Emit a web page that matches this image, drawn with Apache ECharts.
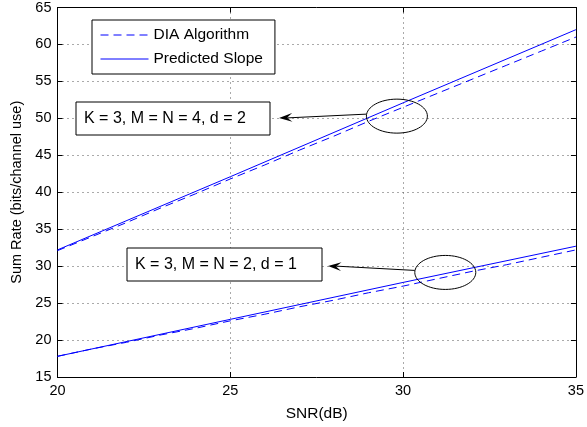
<!DOCTYPE html>
<html>
<head>
<meta charset="utf-8">
<script src="https://cdn.jsdelivr.net/npm/echarts@6/dist/echarts.min.js"></script>
<style>
  html, body { margin: 0; padding: 0; background: #fff; }
  #chart { width: 587px; height: 427px; }
</style>
</head>
<body>
<div id="chart"></div>
<script>
// SNR grid for the simulated curves
const snr = [20, 21, 22, 23, 24, 25, 26, 27, 28, 29, 30, 31, 32, 33, 34, 35]
// DIA algorithm, K=3 M=N=4 d=2
const diaHigh = [32.1, 34.0, 35.9, 37.9, 39.8, 41.8, 43.7, 45.7, 47.6, 49.6, 51.5, 53.4, 55.3, 57.2, 59.1, 61.0]
// DIA algorithm, K=3 M=N=2 d=1
const diaLow = [17.8, 18.8, 19.7, 20.7, 21.6, 22.6, 23.5, 24.5, 25.4, 26.4, 27.3, 28.3, 29.3, 30.2, 31.2, 32.2]
// predicted slope lines
const snrPred = [20, 25, 30, 35]
const predHigh = [32.2, 42.1, 52.1, 62.0]
const predLow = [17.8, 22.8, 27.8, 32.7]

const notes = [
  { text: 'K = 3, M = N = 4, d = 2', box: [76, 102, 194, 33], tip: [279, 118], ellipse: [29.82, 50.3] },
  { text: 'K = 3, M = N = 2, d = 1', box: [127, 248, 195, 33], tip: [328, 266], ellipse: [31.22, 29.15] }
]

const font = 'Liberation Sans, Arial, sans-serif'
const zip = (xs, ys) => xs.map((x, i) => [x, ys[i]])

const chart = echarts.init(document.getElementById('chart'))

const axisCommon = {
  type: 'value',
  axisLine: { show: true, lineStyle: { color: '#000', width: 1 } },
  axisTick: { show: true, inside: true, length: 5, lineStyle: { color: '#000' } },
  axisLabel: { color: '#000', fontFamily: font, fontSize: 14.5 }
}
const dotted = { show: true, lineStyle: { color: '#555', type: [1, 4], width: 1 } }

chart.setOption({
  animation: false,
  grid: { left: 57.5, right: 9, top: 7, bottom: 49 },
  xAxis: [
    {
      ...axisCommon,
      min: 20, max: 35, interval: 5,
      name: 'SNR(dB)', nameLocation: 'middle', nameGap: 29,
      nameTextStyle: { color: '#000', fontFamily: font, fontSize: 15.5 },
      axisLabel: { ...axisCommon.axisLabel, margin: 6 },
      splitLine: dotted
    },
    { ...axisCommon, position: 'top', min: 20, max: 35, interval: 5, axisLabel: { show: false }, splitLine: { show: false } }
  ],
  yAxis: [
    {
      ...axisCommon,
      min: 15, max: 65, interval: 5,
      name: 'Sum Rate (bits/channel use)', nameLocation: 'middle', nameGap: 33,
      nameTextStyle: { color: '#000', fontFamily: font, fontSize: 14.5 },
      axisLabel: { ...axisCommon.axisLabel, margin: 6 },
      splitLine: dotted
    },
    { ...axisCommon, position: 'right', min: 15, max: 65, interval: 5, axisLabel: { show: false }, splitLine: { show: false } }
  ],
  legend: {
    orient: 'vertical', left: 92, top: 20,
    itemWidth: 48, itemHeight: 10, itemGap: 8,
    padding: [7, 12, 7, 8],
    borderColor: '#000', borderWidth: 1, backgroundColor: '#fff',
    itemStyle: { opacity: 0 },
    lineStyle: { width: 1 },
    textStyle: { color: '#000', fontFamily: font, fontSize: 15.5 },
    data: ['DIA Algorithm', 'Predicted Slope']
  },
  series: [
    { name: 'DIA Algorithm', type: 'line', data: zip(snr, diaHigh), showSymbol: false, symbol: 'none',
      lineStyle: { color: '#0000ff', width: 1, type: [8, 5] }, itemStyle: { color: '#0000ff' } },
    { name: 'DIA Algorithm', type: 'line', data: zip(snr, diaLow), showSymbol: false, symbol: 'none',
      lineStyle: { color: '#0000ff', width: 1, type: [8, 5] }, itemStyle: { color: '#0000ff' } },
    { name: 'Predicted Slope', type: 'line', data: zip(snrPred, predHigh), showSymbol: false, symbol: 'none',
      lineStyle: { color: '#0000ff', width: 1 }, itemStyle: { color: '#0000ff' } },
    { name: 'Predicted Slope', type: 'line', data: zip(snrPred, predLow), showSymbol: false, symbol: 'none',
      lineStyle: { color: '#0000ff', width: 1 }, itemStyle: { color: '#0000ff' } }
  ]
})

// annotations: ellipse around the curves, arrow to a text box
const graphics = []
notes.forEach(n => {
  const c = chart.convertToPixel({ gridIndex: 0 }, n.ellipse)
  const rx = 30.5, ry = 17
  graphics.push({ type: 'ellipse', shape: { cx: c[0], cy: c[1], rx, ry }, style: { fill: null, stroke: '#000', lineWidth: 1 }, z: 10 })
  const x0 = c[0] - rx, y0 = c[1] - 2
  const [tx, ty] = n.tip
  graphics.push({ type: 'line', shape: { x1: x0, y1: y0, x2: tx + 6, y2: ty }, style: { stroke: '#000', lineWidth: 1 }, z: 10 })
  // arrowhead
  const ang = Math.atan2(y0 - ty, x0 - tx)
  const pt = (d, a) => [tx + d * Math.cos(ang + a), ty + d * Math.sin(ang + a)]
  graphics.push({ type: 'polygon', shape: { points: [[tx, ty], pt(14, 0.32), pt(8, 0), pt(14, -0.32)] }, style: { fill: '#000' }, z: 10 })
  const [bx, by, bw, bh] = n.box
  graphics.push({ type: 'rect', shape: { x: bx, y: by, width: bw, height: bh }, style: { fill: '#fff', stroke: '#000', lineWidth: 1 }, z: 10 })
  graphics.push({ type: 'text', x: bx + 8, y: by + bh / 2, style: { text: n.text, fill: '#000', font: '16px ' + font, textVerticalAlign: 'middle', verticalAlign: 'middle' }, z: 11 })
})
chart.setOption({ graphic: graphics })
</script>
</body>
</html>
